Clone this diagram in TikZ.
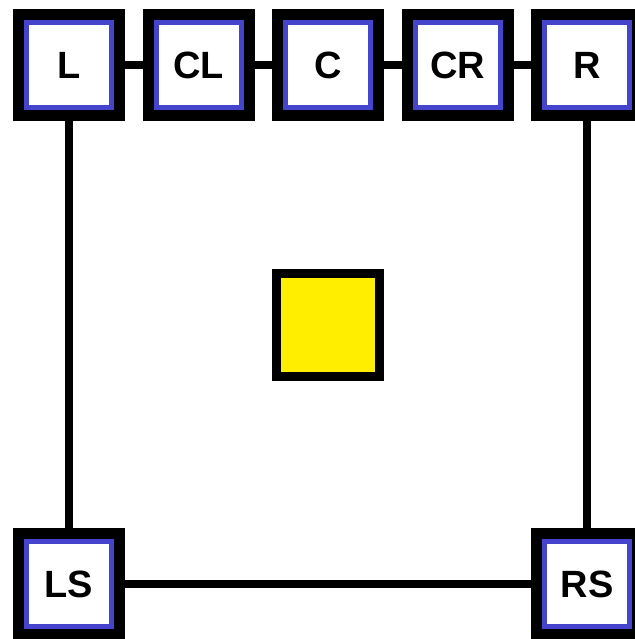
\documentclass[tikz,border=0pt]{standalone}
\usepackage{fontspec}
\setmainfont{Liberation Sans}
\usepackage{xcolor}
\usepackage{tikz}
\usetikzlibrary{positioning}

\definecolor{spkblue}{RGB}{68,68,204}
\definecolor{listener}{RGB}{255,238,0}

\begin{document}
\begin{tikzpicture}[
  node distance=39.5pt,
  spk/.style={draw=spkblue,fill=white,line width=5pt,minimum size=85pt,
    inner sep=0pt,preaction={draw=black,line width=27pt},
    font=\fontsize{38}{40}\selectfont\bfseries},
  seat/.style={draw=black,fill=listener,line width=9pt,minimum size=103pt,
    inner sep=0pt},
  wire/.style={line width=8pt,black}]
\useasboundingbox (0pt,0pt) rectangle (634pt,-639pt);
\node[spk] (l) at (69pt,-65pt) {L};
\node[spk,right=of l] (cl) {CL};
\node[spk,right=of cl] (c) {C};
\node[spk,right=of c] (cr) {CR};
\node[spk,right=of cr] (r) {R};
\node[spk,below=429pt of l] (ls) {LS};
\node[spk,below=429pt of r] (rs) {RS};
\node[seat,below=159pt of c] (pos) {};
\draw[wire] (l)--(cl);
\draw[wire] (cl)--(c);
\draw[wire] (c)--(cr);
\draw[wire] (cr)--(r);
\draw[wire] (l)--(ls);
\draw[wire] (r)--(rs);
\draw[wire] (ls)--(rs);
\end{tikzpicture}
\end{document}
